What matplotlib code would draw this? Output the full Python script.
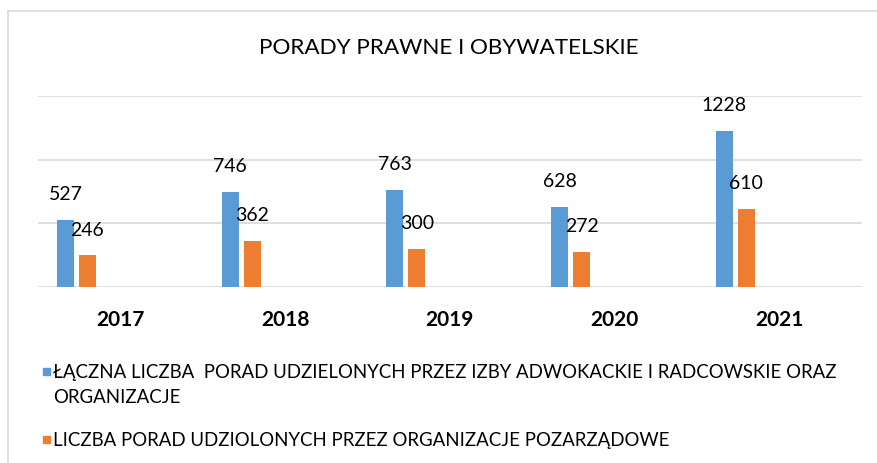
import matplotlib.pyplot as plt
from matplotlib.lines import Line2D
from matplotlib.patches import Rectangle
import numpy as np

plt.rcParams['font.family'] = ['Lato', 'DejaVu Sans']

# Data
years = ["2017", "2018", "2019", "2020", "2021"]
total_advice = [527, 746, 763, 628, 1228]
ngo_advice = [246, 362, 300, 272, 610]
series_names = [
    "ŁĄCZNA LICZBA  PORAD UDZIELONYCH PRZEZ IZBY ADWOKACKIE I RADCOWSKIE ORAZ\nORGANIZACJE",
    "LICZBA PORAD UDZIOLONYCH PRZEZ ORGANIZACJE POZARZĄDOWE",
]
colors = ["#5B9BD5", "#ED7D31"]

W, H = 878, 464
fig = plt.figure(figsize=(W / 100, H / 100), dpi=100)
ax = fig.add_axes([38 / W, 1 - 287.7 / H, (861.7 - 38) / W, (287.7 - 97.3) / H])

# chart reserves room for 6 series per category, only the first two are filled
slot = 1 / (6 + 1.5)
bar_w = slot * 0.77
x = np.arange(len(years))
for k, (vals, col) in enumerate(zip([total_advice, ngo_advice], colors)):
    pos = x + (k - 2.5) * slot
    ax.bar(pos, vals, width=bar_w, color=col, zorder=3)
    for xp, v in zip(pos, vals):
        ax.annotate(str(v), (xp, v), xytext=(0, 19), textcoords="offset points",
                    ha="center", va="center", fontsize=14, color="#000000", zorder=4)

ax.set_xlim(-0.5, len(years) - 0.5)
ax.set_ylim(0, 1500)
ax.set_yticks([0, 500, 1000, 1500])
ax.yaxis.grid(True, color="#D9D9D9", linewidth=1.2)
ax.set_axisbelow(True)
ax.tick_params(axis="y", left=False, labelleft=False)
ax.tick_params(axis="x", length=0, pad=16)
ax.set_xticks(x)
ax.set_xticklabels(years, fontsize=15, fontweight="bold")
for s in ax.spines.values():
    s.set_visible(False)

fig.text(449 / W, 1 - 48 / H, "PORADY PRAWNE I OBYWATELSKIE", ha="center", va="center",
         fontsize=16.2)

# legend
leg_y = [372, 440]
for name, col, yy in zip(series_names, colors, leg_y):
    fig.add_artist(Rectangle((43 / W, 1 - (yy + 3.5) / H), 7 / W, 7 / H,
                             transform=fig.transFigure, color=col))
    fig.text(53 / W, 1 - (yy - 8) / H, name, ha="left", va="top", fontsize=13.4,
             linespacing=1.6)

# chart border
fig.add_artist(Line2D([8 / W, 1], [1 - 11.7 / H] * 2, transform=fig.transFigure,
                      color="#D9D9D9", linewidth=1.2))
fig.add_artist(Line2D([8 / W] * 2, [0, 1 - 11.7 / H], transform=fig.transFigure,
                      color="#D9D9D9", linewidth=1.2))

fig.savefig("out.png", dpi=100)
